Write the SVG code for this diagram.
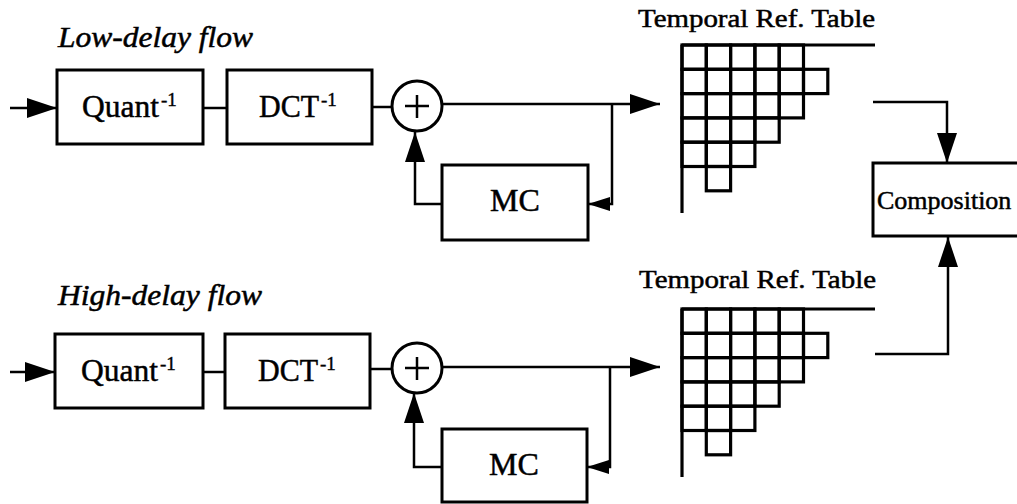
<svg xmlns="http://www.w3.org/2000/svg" width="1017" height="504" viewBox="0 0 1017 504">
<defs>
<style>
.box{fill:#fff;stroke:#000;stroke-width:3}
.cell{fill:none;stroke:#000;stroke-width:3.2}
.ln{fill:none;stroke:#000;stroke-width:2.5}
.lbl{font-family:"Liberation Serif","Times New Roman",serif;font-size:32px;fill:#000;stroke:#000;stroke-width:0.5}
.sup{font-family:"Liberation Serif","Times New Roman",serif;font-size:19px;fill:#000;stroke:#000;stroke-width:0.4}
.ttl{font-family:"Liberation Serif","Times New Roman",serif;font-size:26px;fill:#000;stroke:#000;stroke-width:0.5}
.comp{font-family:"Liberation Serif","Times New Roman",serif;font-size:26px;fill:#000;stroke:#000;stroke-width:0.5}
.flow{font-family:"Liberation Serif","Times New Roman",serif;font-size:29px;font-style:italic;fill:#000;stroke:#000;stroke-width:0.5}
</style>
<marker id="ah" markerUnits="userSpaceOnUse" markerWidth="30" markerHeight="20" refX="30" refY="10" orient="auto">
<path d="M0,0 L30,10 L0,20 z" fill="#000"/>
</marker>
<marker id="ahs" markerUnits="userSpaceOnUse" markerWidth="22" markerHeight="14" refX="22" refY="7" orient="auto">
<path d="M0,0 L22,7 L0,14 z" fill="#000"/>
</marker>
<g id="grid">
<rect class="cell" x="682" y="0" width="24.3" height="24.3"/>
<rect class="cell" x="706.3" y="0" width="24.3" height="24.3"/>
<rect class="cell" x="730.6" y="0" width="24.3" height="24.3"/>
<rect class="cell" x="754.9" y="0" width="24.3" height="24.3"/>
<rect class="cell" x="779.2" y="0" width="24.3" height="24.3"/>
<rect class="cell" x="682" y="24.3" width="24.3" height="24.3"/>
<rect class="cell" x="706.3" y="24.3" width="24.3" height="24.3"/>
<rect class="cell" x="730.6" y="24.3" width="24.3" height="24.3"/>
<rect class="cell" x="754.9" y="24.3" width="24.3" height="24.3"/>
<rect class="cell" x="779.2" y="24.3" width="24.3" height="24.3"/>
<rect class="cell" x="803.5" y="24.3" width="24.3" height="24.3"/>
<rect class="cell" x="682" y="48.6" width="24.3" height="24.3"/>
<rect class="cell" x="706.3" y="48.6" width="24.3" height="24.3"/>
<rect class="cell" x="730.6" y="48.6" width="24.3" height="24.3"/>
<rect class="cell" x="754.9" y="48.6" width="24.3" height="24.3"/>
<rect class="cell" x="779.2" y="48.6" width="24.3" height="24.3"/>
<rect class="cell" x="682" y="72.9" width="24.3" height="24.3"/>
<rect class="cell" x="706.3" y="72.9" width="24.3" height="24.3"/>
<rect class="cell" x="730.6" y="72.9" width="24.3" height="24.3"/>
<rect class="cell" x="754.9" y="72.9" width="24.3" height="24.3"/>
<rect class="cell" x="682" y="97.2" width="24.3" height="24.3"/>
<rect class="cell" x="706.3" y="97.2" width="24.3" height="24.3"/>
<rect class="cell" x="730.6" y="97.2" width="24.3" height="24.3"/>
<rect class="cell" x="706.3" y="121.5" width="24.3" height="24.3"/>
<line class="cell" x1="682" y1="0" x2="875" y2="0"/>
<line class="cell" x1="682" y1="0" x2="682" y2="168"/>
</g>
</defs>

<g id="connectors">
<line class="ln" x1="10" y1="108" x2="57" y2="108" marker-end="url(#ah)"/>
<line class="ln" x1="203" y1="108" x2="227" y2="108"/>
<line class="ln" x1="372" y1="107" x2="392" y2="107"/>
<line class="ln" x1="442" y1="104" x2="660" y2="104" marker-end="url(#ah)"/>
<polyline class="ln" points="612,104 612,204 588,204" marker-end="url(#ahs)"/>
<polyline class="ln" points="442,204 415,204 415,132" marker-end="url(#ah)"/>
<polyline class="ln" points="873,102 947,102 947,163" marker-end="url(#ah)"/>
<line class="ln" x1="10" y1="372" x2="55" y2="372" marker-end="url(#ah)"/>
<line class="ln" x1="203" y1="372" x2="225" y2="372"/>
<line class="ln" x1="370" y1="369" x2="392" y2="369"/>
<line class="ln" x1="442" y1="367" x2="660" y2="367" marker-end="url(#ah)"/>
<polyline class="ln" points="610,367 610,467 587,467" marker-end="url(#ahs)"/>
<polyline class="ln" points="442,467 414,467 414,393" marker-end="url(#ah)"/>
<polyline class="ln" points="875,354 948,354 948,237" marker-end="url(#ah)"/>
</g>

<text id="low-label" class="flow" x="58" y="47" textLength="195" lengthAdjust="spacingAndGlyphs">Low-delay flow</text>
<text id="high-label" class="flow" x="58" y="305" textLength="204" lengthAdjust="spacingAndGlyphs">High-delay flow</text>

<g id="quant-top">
<rect class="box" x="57" y="70" width="146" height="74"/>
<text class="lbl" x="82" y="117" textLength="77" lengthAdjust="spacingAndGlyphs">Quant</text>
<text class="sup" x="161" y="106">-1</text>
</g>
<g id="dct-top">
<rect class="box" x="227" y="70" width="145" height="74"/>
<text class="lbl" x="259" y="117" textLength="60" lengthAdjust="spacingAndGlyphs">DCT</text>
<text class="sup" x="321" y="106">-1</text>
</g>
<g id="sum-top">
<circle class="box" cx="417" cy="106" r="25" stroke-width="2.5"/>
<path class="ln" d="M405,106 H429 M417,95 V118"/>
</g>
<g id="mc-top">
<rect class="box" x="442" y="165" width="146" height="75"/>
<text class="lbl" x="515" y="211" text-anchor="middle">MC</text>
</g>
<g id="table-top">
<text class="ttl" x="638" y="27" textLength="237" lengthAdjust="spacingAndGlyphs">Temporal Ref. Table</text>
<use href="#grid" y="45"/>
</g>

<g id="quant-bottom">
<rect class="box" x="55" y="334" width="148" height="74"/>
<text class="lbl" x="81" y="381" textLength="77" lengthAdjust="spacingAndGlyphs">Quant</text>
<text class="sup" x="160" y="370">-1</text>
</g>
<g id="dct-bottom">
<rect class="box" x="225" y="334" width="145" height="74"/>
<text class="lbl" x="258" y="381" textLength="60" lengthAdjust="spacingAndGlyphs">DCT</text>
<text class="sup" x="320" y="370">-1</text>
</g>
<g id="sum-bottom">
<circle class="box" cx="417" cy="368" r="25" stroke-width="2.5"/>
<path class="ln" d="M405,368 H429 M417,357 V380"/>
</g>
<g id="mc-bottom">
<rect class="box" x="442" y="429" width="145" height="73"/>
<text class="lbl" x="514" y="475" text-anchor="middle">MC</text>
</g>
<g id="table-bottom">
<text class="ttl" x="639" y="288" textLength="237" lengthAdjust="spacingAndGlyphs">Temporal Ref. Table</text>
<use href="#grid" y="309"/>
</g>

<g id="composition">
<path class="box" d="M1017,163 H873 V236 H1017"/>
<text class="comp" x="877" y="209">Composition</text>
</g>
</svg>
